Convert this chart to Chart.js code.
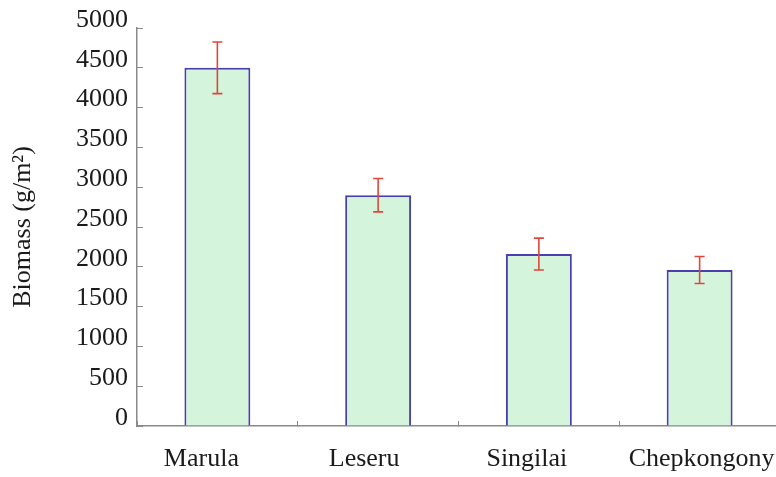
<!DOCTYPE html>
<html>
<head>
<meta charset="utf-8">
<script src="https://cdn.jsdelivr.net/npm/chart.js@4.4.1/dist/chart.umd.min.js"></script>
<style>
    html, body { margin: 0; padding: 0; background: #fff; overflow: hidden; }
    #wrap { position: relative; width: 780px; height: 477px; }
</style>
</head>
<body>
<div id="wrap"><canvas id="biomass"></canvas></div>
<script>
const sites = ["Marula", "Leseru", "Singilai", "Chepkongony"];
const biomass = [4500, 2900, 2160, 1960];
const biomassErr = [325, 210, 200, 170];
const yTicks = [0, 500, 1000, 1500, 2000, 2500, 3000, 3500, 4000, 4500, 5000];

const serif = "'Liberation Serif', 'Times New Roman', serif";
const axisGrey = "#8a8a8a";
const textColor = "#1a1a1a";
// horizontal nudge of each site name relative to its bar centre
const siteLabelShift = [-16, -14, -12, 2];

// red error whiskers with caps, positioned through the chart scales
const errorBars = {
    id: "errorBars",
    afterDatasetsDraw: function (chart) {
        const ctx = chart.ctx;
        const x = chart.scales.x;
        const y = chart.scales.y;
        ctx.save();
        ctx.strokeStyle = "#e0473a";
        ctx.lineWidth = 1.6;
        biomass.forEach(function (v, i) {
            const cx = x.getPixelForValue(i);
            const top = y.getPixelForValue(v + biomassErr[i]);
            const bot = y.getPixelForValue(v - biomassErr[i]);
            ctx.beginPath();
            ctx.moveTo(cx, top);
            ctx.lineTo(cx, bot);
            ctx.moveTo(cx - 5, top);
            ctx.lineTo(cx + 5, top);
            ctx.moveTo(cx - 5, bot);
            ctx.lineTo(cx + 5, bot);
            ctx.stroke();
        });
        ctx.restore();
    }
};

// site names under the axis, each with its own small offset
const siteLabels = {
    id: "siteLabels",
    afterDraw: function (chart) {
        const ctx = chart.ctx;
        const x = chart.scales.x;
        ctx.save();
        ctx.fillStyle = textColor;
        ctx.font = "26px " + serif;
        ctx.textAlign = "center";
        ctx.textBaseline = "alphabetic";
        sites.forEach(function (name, i) {
            ctx.fillText(name, x.getPixelForValue(i) + siteLabelShift[i], x.top + 40);
        });
        ctx.restore();
    }
};

new Chart(document.getElementById("biomass"), {
    type: "bar",
    data: {
        labels: sites,
        datasets: [{
            data: biomass,
            backgroundColor: "#d4f5dc",
            borderColor: "#4b3fb0",
            borderWidth: 2,
            barPercentage: 0.82,
            categoryPercentage: 0.5
        }]
    },
    options: {
        responsive: true,
        maintainAspectRatio: false,
        animation: false,
        layout: { padding: { top: 28, right: 0, bottom: 0, left: 0 } },
        plugins: {
            legend: { display: false },
            tooltip: { enabled: false }
        },
        scales: {
            x: {
                offset: true,
                afterFit: function (scale) {
                    scale.height = 51;
                    scale.paddingLeft = 0;
                    scale.paddingRight = 0;
                },
                grid: {
                    offset: true,
                    drawOnChartArea: false,
                    drawTicks: true,
                    tickLength: -5,
                    color: axisGrey
                },
                border: { color: axisGrey, width: 1.5 },
                ticks: { display: false }
            },
            y: {
                min: 0,
                max: 5000,
                afterBuildTicks: function (scale) {
                    scale.ticks = yTicks.map(function (v) { return { value: v }; });
                },
                afterFit: function (scale) {
                    scale.width = 137;
                    scale.paddingTop = 0;
                    scale.paddingBottom = 0;
                },
                grid: {
                    drawOnChartArea: false,
                    drawTicks: true,
                    tickLength: -6,
                    color: axisGrey
                },
                border: { color: axisGrey, width: 1.5 },
                ticks: {
                    color: textColor,
                    padding: 15,
                    labelOffset: -8,
                    font: { family: serif, size: 26 },
                    callback: function (v) { return String(v); }
                },
                title: {
                    display: true,
                    text: "Biomass (g/m²)",
                    color: textColor,
                    padding: { top: 8, bottom: 0 },
                    font: { family: serif, size: 26 }
                }
            }
        }
    },
    plugins: [errorBars, siteLabels]
});
</script>
</body>
</html>
